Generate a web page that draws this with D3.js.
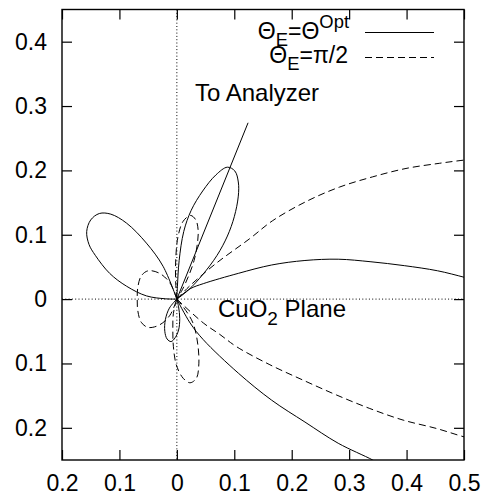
<!DOCTYPE html>
<html>
<head>
<meta charset="utf-8">
<script src="https://cdn.jsdelivr.net/npm/d3@7"></script>
<style>
  body { margin: 0; background: #fff; }
  svg { font-family: 'Liberation Sans', Arial, sans-serif; }
</style>
</head>
<body>
<div id="chart"></div>
<script>
const W = 488
const H = 495

const xTicks = [-0.2, -0.1, 0, 0.1, 0.2, 0.3, 0.4, 0.5]
const xTickLabels = ['0.2', '0.1', '0', '0.1', '0.2', '0.3', '0.4', '0.5']
const yTicks = [-0.2, -0.1, 0, 0.1, 0.2, 0.3, 0.4]
const yTickLabels = ['0.2', '0.1', '0', '0.1', '0.2', '0.3', '0.4']

// Theta_E = Theta^Opt (solid)
const optUpLobe = [[0, 0], [0.001, 0.02], [0.004, 0.06], [0.012, 0.105], [0.025, 0.138], [0.045, 0.168],
  [0.068, 0.193], [0.088, 0.205], [0.101, 0.199], [0.107, 0.182], [0.107, 0.16], [0.1, 0.128],
  [0.088, 0.098], [0.07, 0.068], [0.045, 0.038], [0.02, 0.014], [0, 0]]
const optLeftLobe = [[0, 0], [-0.024, 0.051], [-0.053, 0.087], [-0.0875, 0.118], [-0.115, 0.132],
  [-0.135, 0.133], [-0.15, 0.123], [-0.157, 0.105], [-0.153, 0.085], [-0.142, 0.068], [-0.117, 0.04],
  [-0.0875, 0.02], [-0.053, 0.005], [-0.02, 0.0005], [0, 0]]
const optDownLobe = [[0, 0], [0.003, -0.012], [0.005, -0.03], [0.003, -0.048], [-0.003, -0.06],
  [-0.01, -0.066], [-0.017, -0.062], [-0.021, -0.05], [-0.02, -0.032], [-0.013, -0.014], [0, 0]]
const optRightUpper = [[0, 0], [0.023, 0.016], [0.046, 0.024], [0.107, 0.04], [0.165, 0.053],
  [0.223, 0.06], [0.281, 0.062], [0.338, 0.058], [0.396, 0.052], [0.454, 0.044], [0.5, 0.034], [0.52, 0.029]]
const optRightLower = [[0, 0], [0.023, -0.037], [0.046, -0.063], [0.107, -0.115], [0.165, -0.157],
  [0.223, -0.191], [0.281, -0.224], [0.341, -0.25], [0.36, -0.26]]

// Theta_E = pi/2 (dashed)
const perpUpLobe = [[0, 0], [-0.002, 0.025], [-0.002, 0.061], [0.002, 0.097], [0.011, 0.121],
  [0.024, 0.13], [0.033, 0.123], [0.037, 0.108], [0.036, 0.088], [0.03, 0.06], [0.02, 0.035],
  [0.008, 0.012], [0, 0]]
const perpDownLobe = [[0, 0], [-0.006, -0.022], [-0.007, -0.05], [-0.006, -0.074], [-0.001, -0.102],
  [0.011, -0.123], [0.023, -0.13], [0.034, -0.123], [0.038, -0.105], [0.037, -0.074], [0.028, -0.037],
  [0.011, -0.012], [0, 0]]
const perpLeftLobe = [[0, 0], [-0.012, 0.025], [-0.03, 0.04], [-0.05, 0.044], [-0.062, 0.036],
  [-0.068, 0.018], [-0.069, 0], [-0.068, -0.018], [-0.062, -0.036], [-0.05, -0.044], [-0.03, -0.04],
  [-0.012, -0.025], [0, 0]]
const perpRightUpper = [[0, 0], [0.023, 0.021], [0.069, 0.056], [0.127, 0.094], [0.167, 0.122],
  [0.226, 0.152], [0.283, 0.174], [0.341, 0.19], [0.399, 0.203], [0.457, 0.211], [0.5, 0.216], [0.52, 0.218]]
const perpRightLower = [[0, 0], [0.046, -0.037], [0.075, -0.055], [0.104, -0.074], [0.162, -0.102],
  [0.22, -0.126], [0.278, -0.149], [0.336, -0.17], [0.394, -0.188], [0.452, -0.201], [0.5, -0.214], [0.52, -0.218]]

const analyzerDir = [[0, 0], [0.124, 0.274]]

const svg = d3.select('#chart')
  .append('svg')
  .attr('width', W)
  .attr('height', H)

const x = d3.scaleLinear().domain([-0.2, 0.5]).range([62, 464])
const y = d3.scaleLinear().domain([-0.25, 0.45]).range([460, 9.5])

svg.append('clipPath')
  .attr('id', 'plot')
  .append('rect')
  .attr('x', x(-0.2))
  .attr('y', y(0.45))
  .attr('width', x(0.5) - x(-0.2))
  .attr('height', y(-0.25) - y(0.45))

// zero lines
svg.append('line')
  .attr('x1', x(0)).attr('x2', x(0))
  .attr('y1', y(0.45)).attr('y2', y(-0.25))
  .attr('stroke', '#000').attr('stroke-width', 1)
  .attr('stroke-dasharray', '1,2.3')
svg.append('line')
  .attr('x1', x(-0.2)).attr('x2', x(0.5))
  .attr('y1', y(0)).attr('y2', y(0))
  .attr('stroke', '#000').attr('stroke-width', 1)
  .attr('stroke-dasharray', '1,2.3')

const axisStyle = g => {
  g.select('.domain').remove()
  g.selectAll('.tick line').attr('stroke', '#000').attr('stroke-width', 1.2)
  g.selectAll('.tick text').attr('fill', '#000').attr('font-size', 23)
    .attr('font-family', "'Liberation Sans', Arial, sans-serif")
}

svg.append('g')
  .attr('transform', `translate(0,${y(-0.25)})`)
  .call(d3.axisBottom(x).tickValues(xTicks).tickSize(-10).tickPadding(15)
    .tickFormat((d, i) => xTickLabels[i]))
  .call(axisStyle)
svg.append('g')
  .attr('transform', `translate(0,${y(0.45)})`)
  .call(d3.axisTop(x).tickValues(xTicks).tickSize(-10).tickFormat(''))
  .call(axisStyle)
svg.append('g')
  .attr('transform', `translate(${x(-0.2)},0)`)
  .call(d3.axisLeft(y).tickValues(yTicks).tickSize(-10).tickPadding(15)
    .tickFormat((d, i) => yTickLabels[i]))
  .call(axisStyle)
svg.append('g')
  .attr('transform', `translate(${x(0.5)},0)`)
  .call(d3.axisRight(y).tickValues(yTicks).tickSize(-10).tickFormat(''))
  .call(axisStyle)

const line = d3.line()
  .x(d => x(d[0]))
  .y(d => y(d[1]))
  .curve(d3.curveCatmullRom.alpha(0.5))

const curves = svg.append('g').attr('clip-path', 'url(#plot)')

const drawCurve = (pts, dash) => {
  curves.append('path')
    .attr('d', line(pts))
    .attr('fill', 'none')
    .attr('stroke', '#000')
    .attr('stroke-width', 1)
    .attr('stroke-dasharray', dash)
}

;[optUpLobe, optLeftLobe, optDownLobe, optRightUpper, optRightLower]
  .forEach(p => drawCurve(p, null))
;[perpUpLobe, perpDownLobe, perpLeftLobe, perpRightUpper, perpRightLower]
  .forEach(p => drawCurve(p, '7,4'))

curves.append('path')
  .attr('d', d3.line().x(d => x(d[0])).y(d => y(d[1]))(analyzerDir))
  .attr('fill', 'none')
  .attr('stroke', '#000')
  .attr('stroke-width', 1)

// frame
svg.append('rect')
  .attr('x', x(-0.2))
  .attr('y', y(0.45))
  .attr('width', x(0.5) - x(-0.2))
  .attr('height', y(-0.25) - y(0.45))
  .attr('fill', 'none')
  .attr('stroke', '#000')
  .attr('stroke-width', 1.4)

// annotations
svg.append('text')
  .attr('x', 195).attr('y', 101)
  .attr('font-size', 24)
  .text('To Analyzer')

const cuo = svg.append('text')
  .attr('x', 218).attr('y', 317)
  .attr('font-size', 24)
cuo.append('tspan').text('CuO')
cuo.append('tspan').attr('dy', 8).attr('font-size', 19).text('2')
cuo.append('tspan').attr('dy', -8).text(' Plane')

// legend
const leg1 = svg.append('text')
  .attr('x', 349).attr('y', 39)
  .attr('text-anchor', 'end')
  .attr('font-size', 23)
leg1.append('tspan').text('Θ')
leg1.append('tspan').attr('dy', 7).attr('font-size', 18.4).text('E')
leg1.append('tspan').attr('dy', -7).text('=Θ')
leg1.append('tspan').attr('dy', -11).attr('font-size', 18.4).text('Opt')

const leg2 = svg.append('text')
  .attr('x', 348).attr('y', 63)
  .attr('text-anchor', 'end')
  .attr('font-size', 23)
leg2.append('tspan').text('Θ')
leg2.append('tspan').attr('dy', 7).attr('font-size', 18.4).text('E')
leg2.append('tspan').attr('dy', -7).text('=π/2')

svg.append('line')
  .attr('x1', 365).attr('x2', 434)
  .attr('y1', 32.5).attr('y2', 32.5)
  .attr('stroke', '#000').attr('stroke-width', 1)
svg.append('line')
  .attr('x1', 365).attr('x2', 434)
  .attr('y1', 57.5).attr('y2', 57.5)
  .attr('stroke', '#000').attr('stroke-width', 1)
  .attr('stroke-dasharray', '7,4')
</script>
</body>
</html>
